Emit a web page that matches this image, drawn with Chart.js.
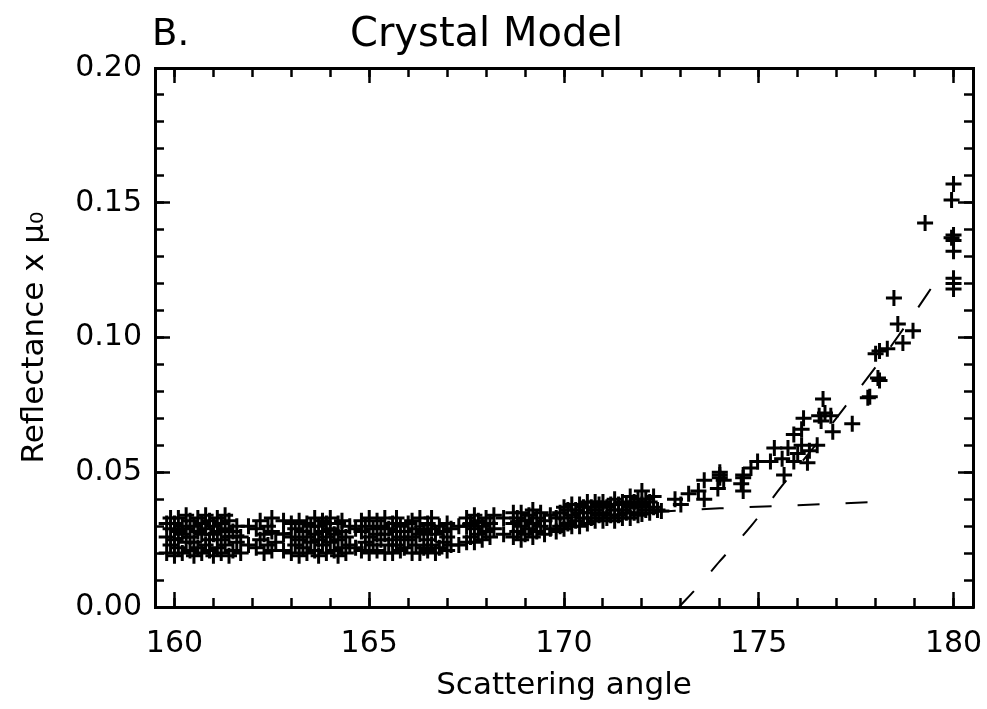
<!DOCTYPE html>
<html>
<head>
<meta charset="utf-8">
<script src="https://cdn.jsdelivr.net/npm/chart.js@4/dist/chart.umd.min.js"></script>
<style>
html, body { margin: 0; padding: 0; background: #fff; }
canvas { display: block; }
</style>
</head>
<body>
<canvas id="crystalChart" width="987" height="709"></canvas>
<script>
// tick labels
const xTicks = [160, 165, 170, 175, 180];
const yTicks = [0.00, 0.05, 0.10, 0.15, 0.20];

// observed points: scattering angle and the reflectances measured at it
const obsAngle = [
  159.8, 159.9, 160.0, 160.1, 160.2, 160.3, 160.4, 160.5, 160.6, 160.7, 160.8, 160.9,
  161.0, 161.1, 161.2, 161.3, 161.4, 161.5, 161.6, 161.7, 161.9,
  162.1, 162.2, 162.3, 162.4, 162.5, 162.6, 162.8,
  163.0, 163.1, 163.2, 163.3, 163.4, 163.5, 163.6, 163.7, 163.8, 163.9, 164.0, 164.1,
  164.2, 164.3, 164.4, 164.5, 164.65,
  164.8, 164.9, 165.0, 165.1, 165.2, 165.3, 165.4, 165.5, 165.6, 165.7, 165.8, 165.9,
  166.0, 166.1, 166.2, 166.3, 166.4, 166.5, 166.6, 166.7, 166.8, 166.9, 167.0, 167.1, 167.3,
  167.5, 167.6, 167.7, 167.8, 167.9, 168.0, 168.1, 168.2, 168.45,
  168.7, 168.8, 168.9, 169.0, 169.1, 169.2, 169.3, 169.4, 169.5, 169.65,
  169.8, 169.9, 170.0, 170.1, 170.2, 170.3, 170.4, 170.5, 170.6, 170.7, 170.8, 170.9,
  171.0, 171.1, 171.2, 171.3, 171.4, 171.5, 171.6, 171.7, 171.8, 171.9, 172.0, 172.1,
  172.2, 172.3, 172.4,
  172.5, 172.85, 173.0, 173.2, 173.45, 173.6, 173.95, 174.0, 174.1, 174.55, 174.6, 174.8, 174.97,
  175.3, 175.4, 175.6, 175.65, 175.75, 175.9, 176.0, 176.1, 176.15, 176.25, 176.3, 176.5, 176.55,
  176.6, 176.65, 176.7, 176.85, 176.9, 177.4, 177.8, 177.85, 178.0, 178.06, 178.1, 178.3, 178.47,
  178.57, 178.7, 178.96, 179.27, 179.95, 180.0];
const obsRefl = [
  [0.020, 0.026, 0.031], [0.023, 0.029, 0.033], [0.019, 0.025, 0.031], [0.022, 0.028, 0.033],
  [0.020, 0.027, 0.030], [0.024, 0.029, 0.034], [0.021, 0.026, 0.032], [0.019, 0.024, 0.030],
  [0.022, 0.028, 0.033], [0.020, 0.027, 0.031], [0.023, 0.029, 0.034], [0.021, 0.025, 0.032],
  [0.019, 0.027, 0.030], [0.022, 0.028, 0.033], [0.020, 0.025, 0.031], [0.023, 0.029, 0.034],
  [0.019, 0.026, 0.032], [0.021, 0.028], [0.024, 0.030], [0.020, 0.026], [0.023, 0.030],
  [0.022, 0.029], [0.025, 0.032], [0.020, 0.027], [0.023, 0.030], [0.021, 0.028, 0.033], [0.024],
  [0.021, 0.027, 0.032],
  [0.020, 0.026, 0.031], [0.023, 0.029], [0.019, 0.025, 0.032], [0.022, 0.028],
  [0.020, 0.026, 0.031], [0.024, 0.030], [0.021, 0.027, 0.033], [0.019, 0.025, 0.030],
  [0.023, 0.028, 0.032], [0.020, 0.026, 0.031], [0.024, 0.029, 0.033], [0.021, 0.027],
  [0.019, 0.025, 0.031], [0.022, 0.028, 0.032], [0.020, 0.026], [0.023, 0.030], [0.022, 0.029],
  [0.021, 0.028, 0.032], [0.024, 0.030], [0.020, 0.026, 0.033], [0.023, 0.029],
  [0.021, 0.027, 0.032], [0.025, 0.030], [0.020, 0.027, 0.033], [0.023, 0.029],
  [0.020, 0.025, 0.031], [0.023, 0.028, 0.033], [0.021, 0.026, 0.030], [0.022, 0.028],
  [0.025, 0.031], [0.020, 0.026, 0.032], [0.023, 0.029], [0.020, 0.027, 0.033],
  [0.022, 0.028], [0.021, 0.025, 0.031], [0.023, 0.029, 0.033], [0.020, 0.027],
  [0.022, 0.030], [0.024, 0.028], [0.021, 0.026, 0.031], [0.023, 0.029], [0.023, 0.030],
  [0.024, 0.030, 0.033], [0.026, 0.031], [0.024, 0.029, 0.034], [0.027, 0.032],
  [0.025, 0.030], [0.028, 0.033], [0.026, 0.031], [0.029, 0.034], [0.027, 0.033],
  [0.026, 0.031, 0.035], [0.028, 0.033], [0.025, 0.030, 0.035], [0.027, 0.032],
  [0.029, 0.034], [0.026, 0.031, 0.036], [0.028, 0.033], [0.030, 0.035], [0.027, 0.032],
  [0.029, 0.034],
  [0.028, 0.033], [0.030, 0.035], [0.029, 0.033, 0.037], [0.031, 0.036],
  [0.030, 0.034, 0.038], [0.032, 0.036], [0.030, 0.035, 0.038], [0.033, 0.037],
  [0.031, 0.035, 0.039], [0.033, 0.037], [0.032, 0.036, 0.039], [0.034, 0.038],
  [0.032, 0.035, 0.039], [0.033, 0.037], [0.034, 0.038], [0.032, 0.036, 0.040],
  [0.034, 0.038], [0.033, 0.036, 0.039], [0.035, 0.038], [0.033, 0.037, 0.041],
  [0.035, 0.039], [0.034, 0.037, 0.040], [0.0345, 0.038, 0.043], [0.036, 0.040],
  [0.035, 0.039], [0.037, 0.041], [0.036],
  [0.0356], [0.040], [0.038], [0.042], [0.043], [0.040, 0.047], [0.044], [0.048, 0.049, 0.050],
  [0.047], [0.0457], [0.043, 0.048, 0.049], [0.0516], [0.054],
  [0.054], [0.059], [0.055], [0.049], [0.059], [0.054, 0.064], [0.057], [0.060, 0.066], [0.070],
  [0.0535], [0.058], [0.060], [0.071], [0.069], [0.0772], [0.072], [0.071], [0.065],
  [0.068], [0.0776], [0.078], [0.094], [0.085], [0.084, 0.095], [0.0958], [0.1147],
  [0.105], [0.098], [0.1025], [0.1425], [0.137, 0.151],
  [0.118, 0.120, 0.122, 0.132, 0.136, 0.138, 0.157]
];

// model curves (dashed)
const flatAngle = [160, 162, 164, 166, 168, 170, 172, 174, 176, 178];
const flatRefl = [0.0255, 0.0268, 0.0283, 0.0298, 0.0313, 0.0330, 0.0350, 0.0366, 0.0378, 0.0390];
const steepAngle = [172.95, 173.5, 174.0, 174.8, 175.6, 176.4, 177.2, 178.0, 178.8, 179.6];
const steepRefl = [0.000, 0.0085, 0.017, 0.030, 0.045, 0.059, 0.074, 0.089, 0.105, 0.122];

const FONT = "'DejaVu Sans', sans-serif";

function toPoints(xs, ys) {
  return xs.map((x, i) => ({ x: x, y: ys[i] }));
}

let obsPoints = [];
obsAngle.forEach((a, i) => {
  obsRefl[i].forEach(r => obsPoints.push({ x: a, y: r }));
});

function steps(lo, hi, step) {
  let v = [];
  for (let i = 0; lo + i * step <= hi + 1e-9; i++) v.push(+(lo + i * step).toFixed(4));
  return v;
}
const xMinor = steps(160, 180, 1);
const yMinor = steps(0, 0.2, 0.01);

// extra axes only carry the inward tick marks (IDL style box)
function tickAxis(position, values, len, border) {
  const horiz = position === 'top' || position === 'bottom';
  return {
    type: 'linear',
    position: position,
    weight: 0,
    min: horiz ? 159.5 : 0,
    max: horiz ? 180.5 : 0.2,
    afterBuildTicks: s => { s.ticks = values.map(v => ({ value: v })); },
    afterFit: s => {
      if (horiz) s.height = 0; else s.width = 0;
      s.paddingLeft = s.paddingRight = s.paddingTop = s.paddingBottom = 0;
    },
    grid: { drawOnChartArea: false, drawTicks: true, tickLength: -len, tickColor: '#000', tickWidth: 2.5 },
    border: { display: border, color: '#000', width: 3 },
    ticks: { display: false }
  };
}

const labelPlugin = {
  id: 'panelLabel',
  afterDraw(chart) {
    const ctx = chart.ctx;
    ctx.save();
    ctx.fillStyle = '#000';
    ctx.font = '37px ' + FONT;
    ctx.textBaseline = 'alphabetic';
    ctx.fillText('B.', 152, 45);
    ctx.restore();
  }
};

new Chart(document.getElementById('crystalChart').getContext('2d'), {
  type: 'scatter',
  data: {
    datasets: [
      {
        data: obsPoints,
        pointStyle: 'cross',
        pointRadius: 8,
        pointBorderWidth: 3,
        pointBorderColor: '#000',
        pointBackgroundColor: '#000'
      },
      {
        data: toPoints(flatAngle, flatRefl),
        showLine: true,
        pointRadius: 0,
        borderColor: '#000',
        borderWidth: 2,
        borderDash: [22, 26],
        cubicInterpolationMode: 'monotone'
      },
      {
        data: toPoints(steepAngle, steepRefl),
        showLine: true,
        pointRadius: 0,
        borderColor: '#000',
        borderWidth: 2,
        borderDash: [22, 26],
        cubicInterpolationMode: 'monotone'
      }
    ]
  },
  options: {
    responsive: false,
    animation: false,
    devicePixelRatio: 1,
    layout: { padding: { left: 0, right: 14, top: 0, bottom: 0 } },
    plugins: {
      legend: { display: false },
      tooltip: { enabled: false },
      title: {
        display: true,
        text: 'Crystal Model',
        color: '#000',
        font: { family: FONT, size: 40, weight: 'normal', lineHeight: 1.2 },
        padding: { top: 12, bottom: 8 }
      }
    },
    scales: {
      x: {
        type: 'linear',
        position: 'bottom',
        weight: 1,
        min: 159.5,
        max: 180.5,
        afterBuildTicks: s => { s.ticks = xTicks.map(v => ({ value: v })); },
        afterFit: s => { s.height = 102; s.paddingLeft = 0; s.paddingRight = 0; },
        grid: { drawOnChartArea: false, drawTicks: true, tickLength: -15, tickColor: '#000', tickWidth: 2.5 },
        border: { display: true, color: '#000', width: 3 },
        ticks: {
          color: '#000',
          padding: 34,
          maxRotation: 0,
          font: { family: FONT, size: 30 },
          callback: v => String(v)
        },
        title: {
          display: true,
          text: 'Scattering angle',
          color: '#000',
          font: { family: FONT, size: 31 },
          padding: { top: 0, bottom: 4 }
        }
      },
      y: {
        type: 'linear',
        position: 'left',
        weight: 1,
        min: 0,
        max: 0.2,
        afterBuildTicks: s => { s.ticks = yTicks.map(v => ({ value: v })); },
        afterFit: s => { s.width = 155; s.paddingTop = 0; s.paddingBottom = 0; },
        grid: { drawOnChartArea: false, drawTicks: true, tickLength: -15, tickColor: '#000', tickWidth: 2.5 },
        border: { display: true, color: '#000', width: 3 },
        ticks: {
          color: '#000',
          padding: 28,
          font: { family: FONT, size: 30 },
          callback: v => Number(v).toFixed(2)
        },
        title: {
          display: true,
          text: 'Reflectance x μ₀',
          color: '#000',
          font: { family: FONT, size: 31 },
          padding: { top: 16, bottom: 0 }
        }
      },
      xMinor: tickAxis('bottom', xMinor, 9, false),
      yMinor: tickAxis('left', yMinor, 9, false),
      xTop: tickAxis('top', xTicks, 15, true),
      xTopMinor: tickAxis('top', xMinor, 9, false),
      yRight: tickAxis('right', yTicks, 15, true),
      yRightMinor: tickAxis('right', yMinor, 9, false)
    }
  },
  plugins: [labelPlugin]
});
</script>
</body>
</html>
